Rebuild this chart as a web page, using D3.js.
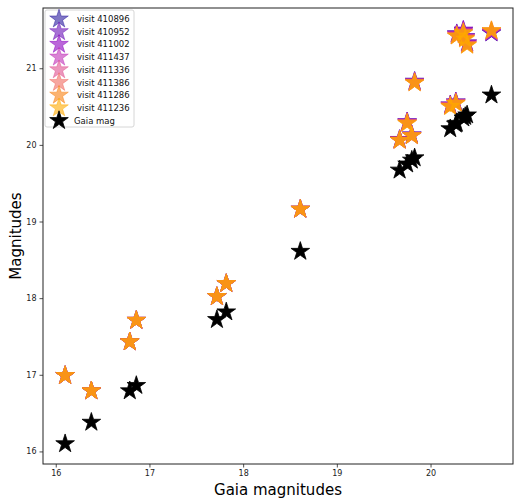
<!DOCTYPE html>
<html>
<head>
<meta charset="utf-8">
<script src="https://cdn.jsdelivr.net/npm/d3@7"></script>
<style>
  body { margin: 0; background: #fff; }
  text { font-family: "DejaVu Sans", sans-serif; }
</style>
</head>
<body>
<div id="chart"></div>
<script>
// Gaia magnitude of each star (x), and its Gaia mag (black stars)
const gaiaMag = [16.10, 16.38, 16.79, 16.86, 17.72, 17.82, 18.61, 19.67, 19.75, 19.80, 19.83, 20.21, 20.27, 20.28, 20.35, 20.37, 20.39, 20.65];
const gaiaY   = [16.10, 16.38, 16.79, 16.86, 17.72, 17.82, 18.61, 19.67, 19.75, 19.80, 19.83, 20.21, 20.27, 20.28, 20.35, 20.37, 20.39, 20.65];

const visits = ['410896', '410952', '411002', '411437', '411336', '411386', '411286', '411236'];
const visitColors = ['#2a1a9e', '#6a10b8', '#8c00c0', '#c030b8', '#e0508f', '#f06a60', '#f88010', '#ffaa00'];

// measured magnitude per visit, one value per star
const visit410896 = [16.99, 16.79, 17.43, 17.71, 18.02, 18.19, 19.16, 20.07, 20.30, 20.13, 20.83, 20.52, 20.56, 21.45, 21.49, 21.41, 21.33, 21.46];
const visit410952 = [16.99, 16.79, 17.43, 17.71, 18.02, 18.19, 19.16, 20.07, 20.30, 20.13, 20.83, 20.52, 20.56, 21.45, 21.49, 21.41, 21.33, 21.46];
const visit411002 = [16.99, 16.79, 17.43, 17.71, 18.02, 18.19, 19.16, 20.07, 20.30, 20.13, 20.82, 20.52, 20.56, 21.44, 21.50, 21.41, 21.33, 21.47];
const visit411437 = [16.99, 16.79, 17.43, 17.71, 18.02, 18.19, 19.16, 20.06, 20.29, 20.12, 20.82, 20.51, 20.55, 21.44, 21.48, 21.40, 21.32, 21.47];
const visit411336 = [16.99, 16.79, 17.43, 17.71, 18.02, 18.19, 19.16, 20.06, 20.29, 20.12, 20.82, 20.51, 20.55, 21.43, 21.47, 21.40, 21.31, 21.48];
const visit411386 = [16.99, 16.79, 17.43, 17.71, 18.02, 18.19, 19.16, 20.06, 20.29, 20.12, 20.81, 20.51, 20.55, 21.42, 21.47, 21.39, 21.31, 21.49];
const visit411286 = [16.99, 16.79, 17.43, 17.71, 18.02, 18.19, 19.16, 20.06, 20.28, 20.12, 20.81, 20.50, 20.54, 21.42, 21.46, 21.39, 21.30, 21.49];
const visit411236 = [16.99, 16.79, 17.43, 17.71, 18.02, 18.19, 19.16, 20.06, 20.28, 20.12, 20.81, 20.50, 20.54, 21.42, 21.46, 21.38, 21.30, 21.49];
const visitMags = [visit410896, visit410952, visit411002, visit411437, visit411336, visit411386, visit411286, visit411236];

const xTicks = [16, 17, 18, 19, 20];
const yTicks = [16, 17, 18, 19, 20, 21];

const width = 529;
const height = 500;
const margin = { top: 8, right: 16, bottom: 36, left: 43 };
const alpha = 0.6;

const x = d3.scaleLinear()
  .domain([15.864, 20.88])
  .range([margin.left, width - margin.right]);
const y = d3.scaleLinear()
  .domain([15.836, 21.786])
  .range([height - margin.bottom, margin.top]);

const star = d3.symbol().type(d3.symbolStar).size(108);

const svg = d3.select('#chart')
  .append('svg')
  .attr('width', width)
  .attr('height', height)
  .attr('viewBox', `0 0 ${width} ${height}`);

// visits
visitMags.forEach((mags, i) => {
  svg.append('g')
    .selectAll('path')
    .data(mags)
    .join('path')
    .attr('d', star)
    .attr('transform', (d, j) => `translate(${x(gaiaMag[j])},${y(d)})`)
    .attr('fill', visitColors[i])
    .attr('fill-opacity', alpha)
    .attr('stroke', visitColors[i])
    .attr('stroke-opacity', alpha)
    .attr('stroke-width', 0.8);
});

// gaia
svg.append('g')
  .selectAll('path')
  .data(gaiaY)
  .join('path')
  .attr('d', star)
  .attr('transform', (d, j) => `translate(${x(gaiaMag[j])},${y(d)})`)
  .attr('fill', '#000')
  .attr('stroke', '#000')
  .attr('stroke-width', 0.8);

// axes
const xAxis = svg.append('g')
  .attr('transform', `translate(0,${height - margin.bottom})`)
  .call(d3.axisBottom(x).tickValues(xTicks).tickFormat(d3.format('d')).tickSize(3.5).tickPadding(3));
const yAxis = svg.append('g')
  .attr('transform', `translate(${margin.left},0)`)
  .call(d3.axisLeft(y).tickValues(yTicks).tickFormat(d3.format('d')).tickSize(3.5).tickPadding(3));
[xAxis, yAxis].forEach((a) => {
  a.select('.domain').remove();
  a.selectAll('text').attr('font-size', 8).attr('fill', '#222').style('font-family', '"DejaVu Sans", sans-serif');
  a.selectAll('line').attr('stroke', '#222').attr('stroke-width', 0.8);
});

svg.append('rect')
  .attr('x', margin.left)
  .attr('y', margin.top)
  .attr('width', width - margin.left - margin.right)
  .attr('height', height - margin.top - margin.bottom)
  .attr('fill', 'none')
  .attr('stroke', '#222')
  .attr('stroke-width', 1);

svg.append('text')
  .attr('x', (margin.left + width - margin.right) / 2)
  .attr('y', 495)
  .attr('text-anchor', 'middle')
  .attr('font-size', 15)
  .text('Gaia magnitudes');

svg.append('text')
  .attr('transform', `translate(21,${(margin.top + height - margin.bottom) / 2}) rotate(-90)`)
  .attr('text-anchor', 'middle')
  .attr('font-size', 15)
  .text('Magnitudes');

// legend
const legend = svg.append('g');
legend.append('rect')
  .attr('x', 45)
  .attr('y', 10)
  .attr('width', 89)
  .attr('height', 117)
  .attr('rx', 2)
  .attr('fill', '#fff')
  .attr('fill-opacity', 0.8)
  .attr('stroke', '#ccc')
  .attr('stroke-width', 0.8);

const entries = visits.map((v, i) => ({ label: `visit ${v}`, fill: visitColors[i], opacity: alpha }))
  .concat([{ label: 'Gaia mag', fill: '#000', opacity: 1 }]);

const row = legend.selectAll('g')
  .data(entries)
  .join('g')
  .attr('transform', (d, i) => `translate(59,${19 + i * 12.7})`);
row.append('path')
  .attr('d', star)
  .attr('fill', (d) => d.fill)
  .attr('fill-opacity', (d) => d.opacity)
  .attr('stroke', (d) => d.fill)
  .attr('stroke-opacity', (d) => d.opacity)
  .attr('stroke-width', 0.8);
row.append('text')
  .attr('x', (d) => (d.label === 'Gaia mag' ? 15 : 18))
  .attr('y', 3)
  .attr('font-size', 8.5)
  .attr('fill', '#111')
  .text((d) => d.label);
</script>
</body>
</html>
